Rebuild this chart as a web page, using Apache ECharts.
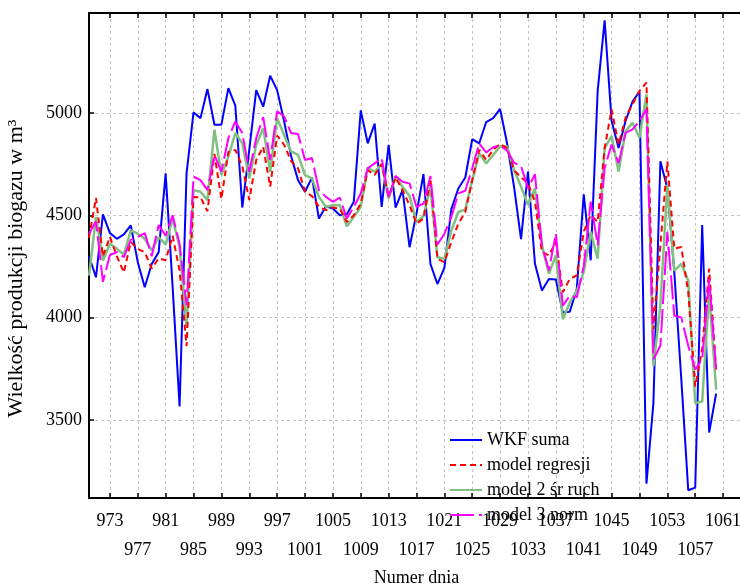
<!DOCTYPE html>
<html>
<head>
<meta charset="utf-8">
<script src="https://cdn.jsdelivr.net/npm/echarts@6/dist/echarts.min.js"></script>
<style>
  html, body { margin: 0; padding: 0; background: #fff; }
  #chart { width: 740px; height: 584px; }
</style>
</head>
<body>
<div id="chart"></div>
<script>
// day numbers start at 970, one value per day up to 1060
const firstDay = 970;

const wkfSuma = [
  4300, 4197, 4505, 4413, 4385, 4407, 4451, 4271, 4148, 4262,
  4320, 4705, 4150, 3566, 4705, 5003, 4975, 5117, 4943, 4943,
  5122, 5036, 4538, 4820, 5112, 5031, 5182, 5112, 4960, 4790,
  4672, 4615, 4685, 4484, 4544, 4533, 4500, 4505, 4566, 5013,
  4852, 4948, 4541, 4844, 4538, 4623, 4344, 4508, 4702, 4262,
  4164, 4243, 4530, 4631, 4685, 4872, 4852, 4956, 4975, 5020,
  4852, 4639, 4383, 4714, 4263, 4132, 4189, 4186, 4025, 4029,
  4140, 4603, 4280, 5108, 5453, 4961, 4829, 4961, 5056, 5105,
  3188, 3582, 4764, 4632, 4220, 3700, 3156, 3169, 4452, 3438,
  3628
];

const modelRegresji = [
  4390, 4585, 4300, 4395, 4300, 4220, 4370, 4335, 4320, 4240,
  4290, 4280, 4400, 4230, 3860, 4590, 4588, 4520, 4800, 4580,
  4810, 4820, 4740, 4575, 4770, 4835, 4640, 4890, 4845, 4765,
  4730, 4615, 4594, 4541, 4525, 4538, 4533, 4467, 4500, 4557,
  4721, 4697, 4751, 4590, 4685, 4623, 4549, 4459, 4484, 4680,
  4287, 4271, 4369, 4459, 4516, 4672, 4820, 4771, 4820, 4849,
  4828, 4721, 4685, 4657, 4567, 4321, 4304, 4370, 4124, 4189,
  4206, 4419, 4501, 4468, 4829, 5018, 4846, 4977, 5043, 5108,
  5149, 3943, 4353, 4764, 4337, 4345, 4124, 3664, 3845, 4239,
  3746
];

const model2SrRuch = [
  4205, 4492, 4279, 4361, 4336, 4308, 4426, 4410, 4385, 4328,
  4394, 4357, 4484, 4344, 3951, 4623, 4615, 4574, 4918, 4697,
  4787, 4902, 4852, 4680, 4844, 4926, 4713, 4975, 4893, 4812,
  4795, 4697, 4680, 4590, 4541, 4549, 4549, 4446, 4492, 4541,
  4734, 4713, 4751, 4582, 4692, 4639, 4594, 4467, 4495, 4639,
  4295, 4287, 4426, 4516, 4528, 4672, 4803, 4754, 4795, 4836,
  4836, 4721, 4641, 4550, 4632, 4353, 4214, 4304, 3992, 4074,
  4132, 4222, 4419, 4288, 4829, 4887, 4714, 4911, 4952, 4879,
  5092, 3763, 4058, 4649, 4230, 4263, 4181, 3582, 3590, 4124,
  3648
];

const model3Norm = [
  4410, 4470, 4175, 4306, 4320, 4295, 4380, 4394, 4413, 4300,
  4453, 4400, 4500, 4361, 4060, 4689, 4672, 4623, 4795, 4713,
  4877, 4959, 4902, 4713, 4877, 4980, 4770, 5008, 4984, 4902,
  4898, 4770, 4780, 4623, 4590, 4566, 4587, 4484, 4540, 4607,
  4730, 4754, 4779, 4590, 4692, 4664, 4656, 4541, 4557, 4692,
  4357, 4410, 4492, 4607, 4620, 4730, 4852, 4807, 4833, 4840,
  4816, 4757, 4741, 4632, 4701, 4353, 4230, 4411, 4058, 4107,
  4099, 4250, 4567, 4353, 4731, 4846, 4755, 4903, 4920, 4961,
  5018, 3796, 3862, 4419, 4009, 4001, 3862, 3746, 3796, 4189,
  3746
];

// tick positions, and the labels of the two staggered label rows
const xTicks = [973, 977, 981, 985, 989, 993, 997, 1001, 1005, 1009, 1013, 1017,
  1021, 1025, 1029, 1033, 1037, 1041, 1045, 1049, 1053, 1057, 1061];
const xLabelsRow1 = [973, 981, 989, 997, 1005, 1013, 1021, 1029, 1037, 1045, 1053, 1061];
const xLabelsRow2 = [977, 985, 993, 1001, 1009, 1017, 1025, 1033, 1041, 1049, 1057];
const yTicks = [3500, 4000, 4500, 5000];

const toPoints = (vals) => vals.map((v, i) => [firstDay + i, v]);

const serif = 'Liberation Serif';
const chart = echarts.init(document.getElementById('chart'));

const gridLine = { show: true, lineStyle: { color: '#c4c4c4', width: 1, type: [3, 3] } };
const axisLine = { show: true, onZero: false, lineStyle: { color: '#000', width: 2 } };
const tick = { show: true, inside: true, length: 5, customValues: xTicks, lineStyle: { color: '#000', width: 1.5 } };
const labelText = { fontFamily: serif, fontSize: 18, color: '#000' };

const option = {
  animation: false,
  backgroundColor: '#fff',
  grid: { left: 89, top: 13, right: -4, bottom: 86, containLabel: false, outerBoundsMode: 'none' },
  legend: {
    orient: 'vertical',
    left: 444,
    top: 425,
    itemWidth: 32,
    itemHeight: 14,
    itemGap: 5,
    itemStyle: { opacity: 0 },
    textStyle: { fontFamily: serif, fontSize: 18, color: '#000', lineHeight: 20 },
    data: ['WKF suma', 'model regresji', 'model 2 śr ruch', 'model 3 norm']
  },
  xAxis: [{
    type: 'value',
    min: 970,
    max: 1064,
    name: 'Numer dnia',
    nameLocation: 'middle',
    nameGap: 71,
    nameTextStyle: labelText,
    axisLine: axisLine,
    axisTick: tick,
    splitLine: gridLine,
    axisLabel: Object.assign({
      customValues: xLabelsRow1,
      hideOverlap: false,
      margin: 14,
      formatter: (v) => String(v)
    }, labelText)
  }, {
    type: 'value',
    position: 'bottom',
    min: 970,
    max: 1064,
    axisLine: { show: false },
    axisTick: { show: false },
    splitLine: { show: false },
    axisLabel: Object.assign({
      customValues: xLabelsRow2,
      hideOverlap: false,
      margin: 43,
      formatter: (v) => String(v)
    }, labelText)
  }, {
    type: 'value',
    position: 'top',
    min: 970,
    max: 1064,
    axisLine: axisLine,
    axisTick: tick,
    splitLine: { show: false },
    axisLabel: { show: false }
  }],
  yAxis: {
    type: 'value',
    min: 3118,
    max: 5489,
    name: 'Wielkość produkcji biogazu w m³',
    nameLocation: 'middle',
    nameGap: 62,
    nameTextStyle: { fontFamily: serif, fontSize: 22, color: '#000', padding: [0, 26, 0, 0] },
    axisLine: axisLine,
    axisTick: { show: true, inside: true, length: 5, customValues: yTicks, lineStyle: { color: '#000', width: 1.5 } },
    splitLine: gridLine,
    axisLabel: Object.assign({
      customValues: yTicks,
      margin: 7,
      formatter: (v) => String(v)
    }, labelText)
  },
  series: [{
    name: 'WKF suma',
    type: 'line',
    data: toPoints(wkfSuma),
    symbol: 'none',
    z: 2,
    lineStyle: { color: '#0000ff', width: 2 },
    itemStyle: { color: '#0000ff' }
  }, {
    name: 'model regresji',
    type: 'line',
    data: toPoints(modelRegresji),
    symbol: 'none',
    z: 4,
    lineStyle: { color: '#ff0000', width: 2, type: [6, 4] },
    itemStyle: { color: '#ff0000' }
  }, {
    name: 'model 2 śr ruch',
    type: 'line',
    data: toPoints(model2SrRuch),
    symbol: 'none',
    z: 3,
    lineStyle: { color: '#80c080', width: 2.5 },
    itemStyle: { color: '#80c080' }
  }, {
    name: 'model 3 norm',
    type: 'line',
    data: toPoints(model3Norm),
    symbol: 'none',
    z: 5,
    lineStyle: { color: '#ff00ff', width: 2, type: [24, 5] },
    itemStyle: { color: '#ff00ff' }
  }]
};

chart.setOption(option);
</script>
</body>
</html>
